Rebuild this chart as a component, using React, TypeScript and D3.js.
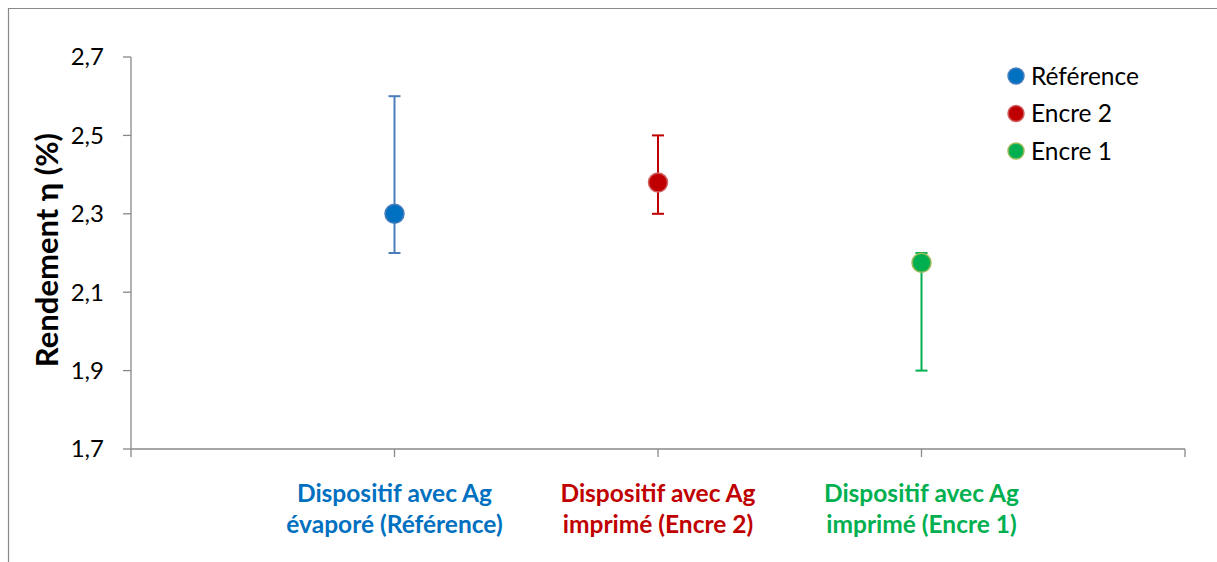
import React from "react";
import * as d3 from "d3";

const seriesNames = ["Référence", "Encre 2", "Encre 1"];
const xPositions = [1, 2, 3];
const values = [2.3, 2.38, 2.175];
const errLow = [2.2, 2.3, 1.9];
const errHigh = [2.6, 2.5, 2.2];
const fillColors = ["#0070C0", "#C00000", "#00B050"];
const strokeColors = ["#4A7EBB", "#D06060", "#9BBB59"];
const barColors = ["#4A7EBB", "#C00000", "#00B050"];
const catLine1 = ["Dispositif avec Ag", "Dispositif avec Ag", "Dispositif avec Ag"];
const catLine2 = ["évaporé (Référence)", "imprimé (Encre 2)", "imprimé (Encre 1)"];
const yTicks = [1.7, 1.9, 2.1, 2.3, 2.5, 2.7];
const xTicks = [0, 1, 2, 3, 4];

const FONT = "Lato, 'Open Sans', sans-serif";

export default function App() {
  const W = 1217, H = 562;
  const x = d3.scaleLinear().domain([0, 4]).range([131, 1185]);
  const y = d3.scaleLinear().domain([1.7, 2.7]).range([449, 57]);
  const fmt = (v: number) => v.toFixed(1).replace(".", ",");
  return (
    <svg width={W} height={H} style={{ position: "absolute", left: 0, top: 0 }}>
      <rect x={0} y={0} width={W} height={H} fill="#fff" />
      <path d={`M8.5,${H} V8.5 H${W}`} fill="none" stroke="#898989" strokeWidth={1.2} />
      {/* y axis */}
      <line x1={131} x2={131} y1={y(2.7)} y2={y(1.7)} stroke="#898989" strokeWidth={1.3} />
      {yTicks.map((t) => (
        <g key={t}>
          <line x1={123} x2={131} y1={y(t)} y2={y(t)} stroke="#898989" strokeWidth={1.3} />
          <text x={104} y={y(t)} dy="0.35em" textAnchor="end" fontFamily={FONT} fontSize={24} fill="#000">
            {fmt(t)}
          </text>
        </g>
      ))}
      {/* x axis */}
      <line x1={x(0)} x2={x(4)} y1={y(1.7)} y2={y(1.7)} stroke="#898989" strokeWidth={1.3} />
      {xTicks.map((t) => (
        <line key={t} x1={x(t)} x2={x(t)} y1={y(1.7)} y2={y(1.7) + 8} stroke="#898989" strokeWidth={1.3} />
      ))}
      {/* y title */}
      <text
        transform={`translate(58,${250}) rotate(-90)`}
        textAnchor="middle"
        fontFamily={FONT}
        fontWeight="bold"
        fontSize={31}
        fill="#000"
      >
        Rendement η (%)
      </text>
      {/* error bars & points */}
      {values.map((v, i) => {
        const cx = x(xPositions[i]);
        return (
          <g key={i}>
            <line x1={cx} x2={cx} y1={y(errLow[i])} y2={y(errHigh[i])} stroke={barColors[i]} strokeWidth={2} />
            <line x1={cx - 6} x2={cx + 6} y1={y(errLow[i])} y2={y(errLow[i])} stroke={barColors[i]} strokeWidth={2} />
            <line x1={cx - 6} x2={cx + 6} y1={y(errHigh[i])} y2={y(errHigh[i])} stroke={barColors[i]} strokeWidth={2} />
            <circle cx={cx} cy={y(v)} r={9.5} fill={fillColors[i]} stroke={strokeColors[i]} strokeWidth={1.5} />
          </g>
        );
      })}
      {/* category labels */}
      {values.map((_, i) => (
        <text
          key={i}
          x={x(xPositions[i])}
          textAnchor="middle"
          fontFamily={FONT}
          fontWeight="bold"
          fontSize={24.5}
          fill={fillColors[i]}
        >
          <tspan x={x(xPositions[i])} y={502}>{catLine1[i]}</tspan>
          <tspan x={x(xPositions[i])} y={533}>{catLine2[i]}</tspan>
        </text>
      ))}
      {/* legend */}
      {seriesNames.map((n, i) => (
        <g key={n}>
          <circle cx={1016} cy={76 + i * 37.5} r={8} fill={fillColors[i]} stroke={strokeColors[i]} strokeWidth={1.5} />
          <text x={1031} y={76 + i * 37.5} dy="0.35em" fontFamily={FONT} fontSize={24.5} fill="#000">
            {n}
          </text>
        </g>
      ))}
    </svg>
  );
}
